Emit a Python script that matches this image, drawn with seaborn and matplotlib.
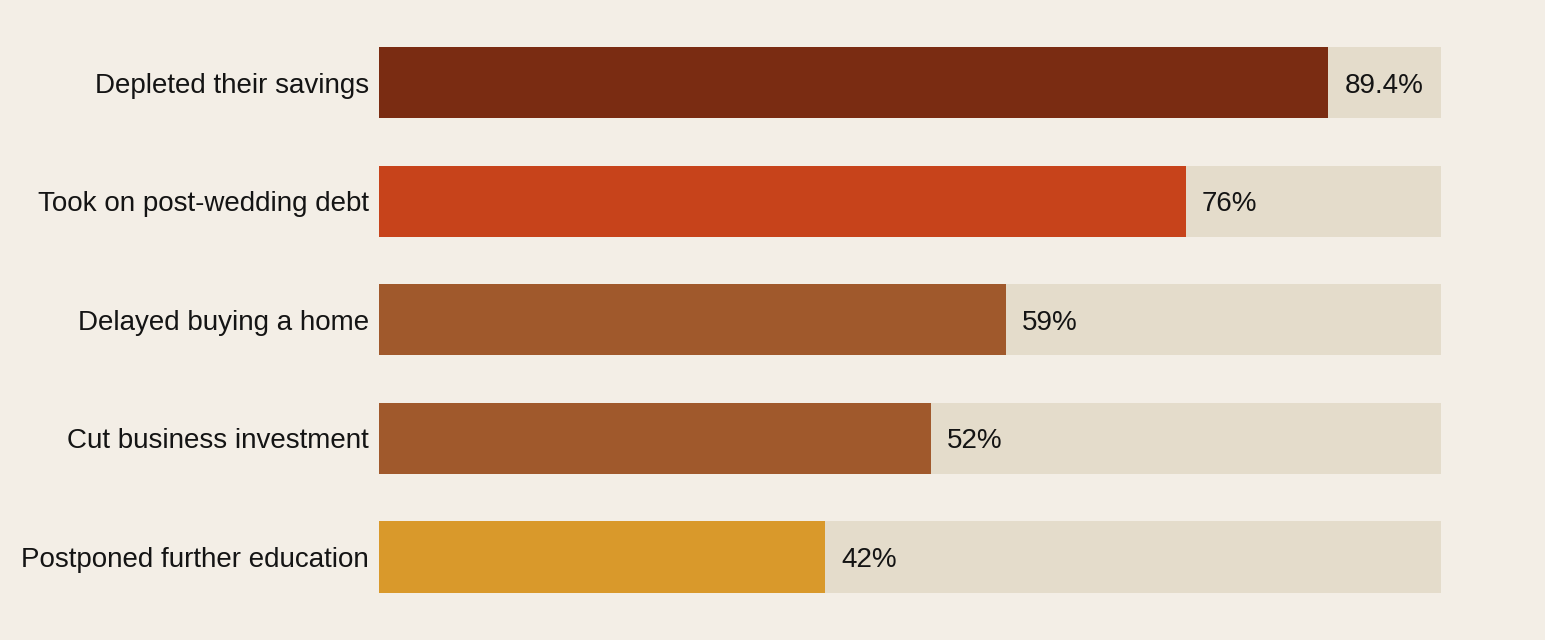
import matplotlib
matplotlib.use("Agg")
import matplotlib.pyplot as plt
import seaborn as sns
import pandas as pd
from matplotlib import font_manager

categories = ["Depleted their savings", "Took on post-wedding debt", "Delayed buying a home",
              "Cut business investment", "Postponed further education"]
values = [89.4, 76, 59, 52, 42]
labels = ["89.4%", "76%", "59%", "52%", "42%"]
colors = ["#7a2c12", "#c7431b", "#a0592c", "#a0592c", "#d9992b"]
track_max = 100

BG = "#f3eee6"
TRACK = "#e4dccb"

sns.set_theme(style="white")
names = sorted({f.name for f in font_manager.fontManager.ttflist})
fam = "Liberation Sans" if "Liberation Sans" in names else "DejaVu Sans"
plt.rcParams["font.family"] = [fam, "DejaVu Sans"]

df = pd.DataFrame({"cat": categories, "val": values, "track": [track_max] * len(values)})

fig = plt.figure(figsize=(15.45, 6.4), dpi=100, facecolor=BG)
ax = fig.add_axes([379 / 1545, 1 - 616.3 / 640, (1441 - 379) / 1545, (616.3 - 23.2) / 640])
ax.set_facecolor(BG)

sns.barplot(data=df, x="track", y="cat", color=TRACK, width=0.6, ax=ax, saturation=1,
            linewidth=0, edgecolor="none")
sns.barplot(data=df, x="val", y="cat", hue="cat", palette=colors, width=0.6, ax=ax,
            saturation=1, legend=False, linewidth=0, edgecolor="none")

for i, (v, lab) in enumerate(zip(values, labels)):
    ax.annotate(lab, xy=(v, i), xytext=(11.5, 0), textcoords="offset points",
                ha="left", va="center_baseline", fontsize=20, color="#141414", family=fam)

ax.set_xlim(0, track_max)
ax.set_ylim(4.5, -0.5)
ax.set_xlabel("")
ax.set_ylabel("")
ax.set_xticks([])
ax.tick_params(axis="y", length=0, pad=7.2, labelsize=20, labelcolor="#141414")
for t in ax.get_yticklabels():
    t.set_family(fam)
for s in ax.spines.values():
    s.set_visible(False)

fig.savefig("out.png", dpi=100, facecolor=BG)
